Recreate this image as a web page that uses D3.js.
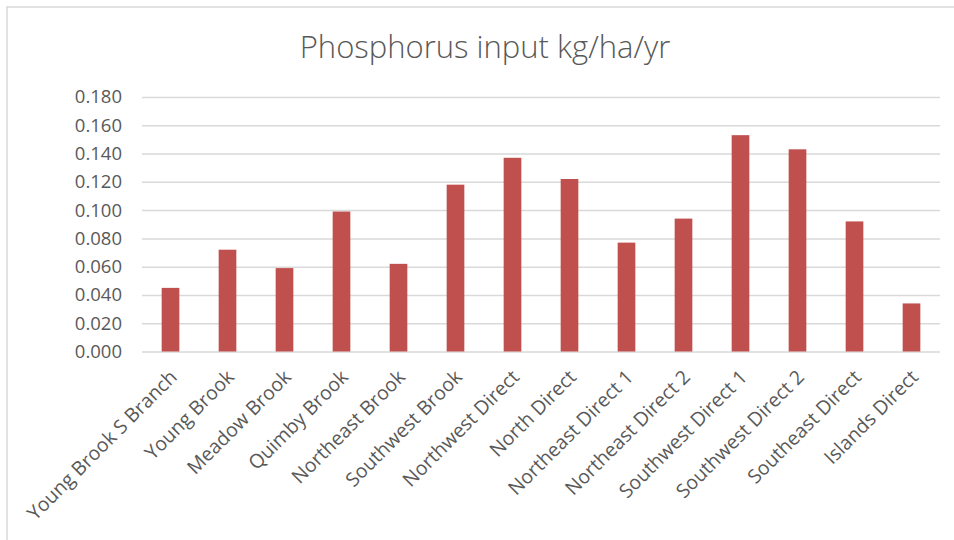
<!DOCTYPE html>
<html>
<head>
<meta charset="utf-8">
<script src="https://cdn.jsdelivr.net/npm/d3@7"></script>
<style>
  body { margin: 0; background: #fff; }
  text { font-family: "Open Sans", "Liberation Sans", sans-serif; fill: #595959; }
</style>
</head>
<body>
<svg id="chart"></svg>
<script>
let categories = ["Young Brook S Branch", "Young Brook", "Meadow Brook", "Quimby Brook",
  "Northeast Brook", "Southwest Brook", "Northwest Direct", "North Direct",
  "Northeast Direct 1", "Northeast Direct 2", "Southwest Direct 1", "Southwest Direct 2",
  "Southeast Direct", "Islands Direct"];
let values = [0.045, 0.072, 0.059, 0.099, 0.062, 0.118, 0.137, 0.122,
  0.077, 0.094, 0.153, 0.143, 0.092, 0.034];
let yTicks = [0, 0.02, 0.04, 0.06, 0.08, 0.10, 0.12, 0.14, 0.16, 0.18];
let title = "Phosphorus input kg/ha/yr";

let svg = d3.select("svg#chart").attr("width", 954).attr("height", 540);
let plot = { left: 142, right: 940, top: 97, bottom: 351.5 };

// chart border
svg.append("rect").attr("x", 7).attr("y", 7).attr("width", 980).attr("height", 560)
  .attr("fill", "none").attr("stroke", "#d9d9d9").attr("stroke-width", 1.5);

let xScale = d3.scaleBand().domain(categories).range([plot.left, plot.right]).paddingInner(0.69).paddingOuter(0.345);
let yScale = d3.scaleLinear().domain([0, 0.18]).range([plot.bottom, plot.top]);

// gridlines
let yGrid = d3.axisLeft(yScale).tickValues(yTicks).tickSize(-(plot.right - plot.left)).tickFormat("");
let grid = svg.append("g").attr("transform", "translate(" + plot.left + ",0)").call(yGrid);
grid.select(".domain").remove();
grid.selectAll("line").attr("stroke", "#d9d9d9").attr("stroke-width", 1.5);

// y axis labels
let yAxis = d3.axisLeft(yScale).tickValues(yTicks).tickFormat(d3.format(".3f")).tickSize(0).tickPadding(20);
let ya = svg.append("g").attr("transform", "translate(" + plot.left + ",0)").call(yAxis);
ya.select(".domain").remove();
ya.selectAll("text").style("font-size", "18.5px").style("fill", "#595959")
  .style("font-family", "'Open Sans', sans-serif");

// bars
svg.selectAll("rect.bar").data(values).enter().append("rect").attr("class", "bar")
  .attr("x", (d, i) => xScale(categories[i]))
  .attr("width", xScale.bandwidth())
  .attr("y", d => yScale(d))
  .attr("height", d => yScale(0) - yScale(d))
  .attr("fill", "#c0504d");

// x axis labels
let xAxis = d3.axisBottom(xScale).tickSize(0).tickPadding(0);
let xa = svg.append("g").attr("transform", "translate(0," + plot.bottom + ")").call(xAxis);
xa.select(".domain").remove();
xa.selectAll("text")
  .style("font-size", "19.5px").style("fill", "#595959")
  .style("font-family", "'Open Sans', sans-serif")
  .attr("text-anchor", "end")
  .attr("dy", "0.35em")
  .attr("transform", "translate(3,22) rotate(-45)");

// title
svg.append("text").attr("x", 485).attr("y", 58).attr("text-anchor", "middle")
  .style("font-size", "31px").style("font-weight", "300").style("fill", "#595959").text(title);
</script>
</body>
</html>
